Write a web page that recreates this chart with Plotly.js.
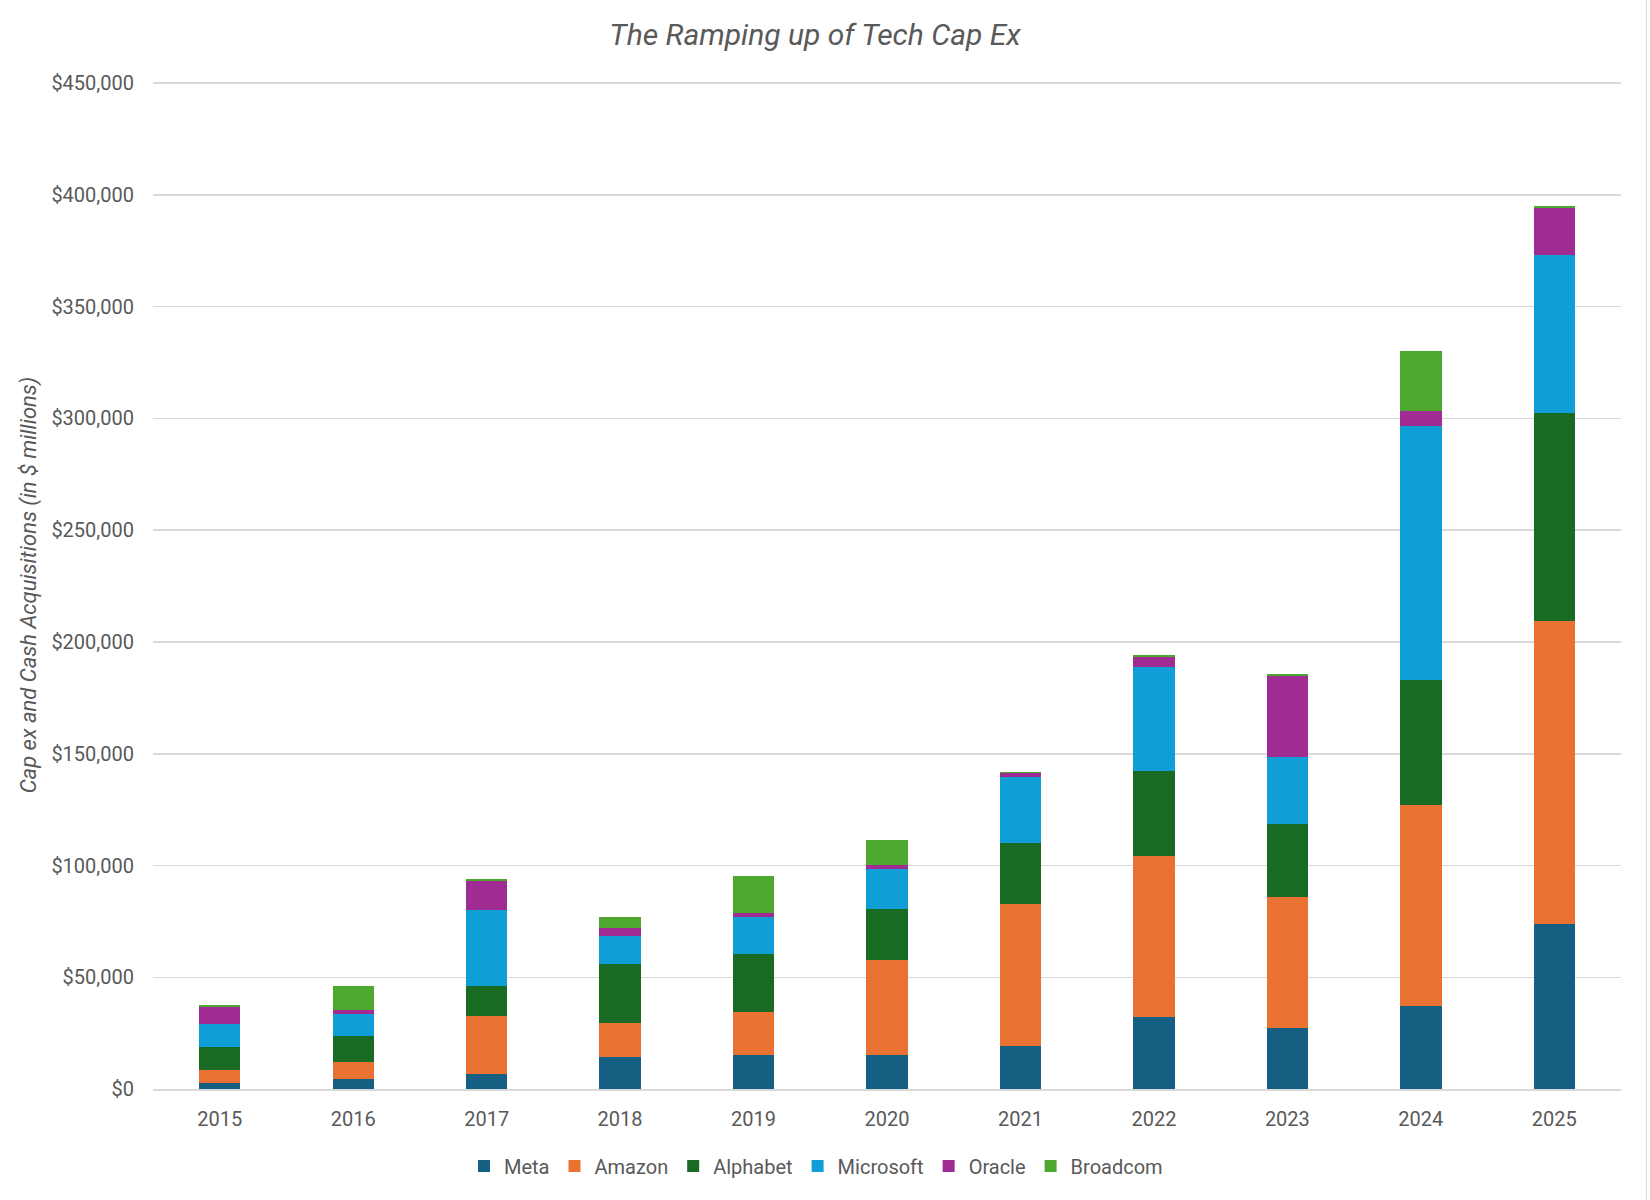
<!DOCTYPE html>
<html>
<head>
<meta charset="utf-8">
<script src="https://cdn.plot.ly/plotly-3.0.1.min.js"></script>
<style>
  body { margin: 0; background: #ffffff; }
  #chart { width: 1646px; height: 1200px; border-right: 1px solid #d9d9d9; }
</style>
</head>
<body>
<div id="chart"></div>
<script>
// Years on the x axis.
const years = ['2015', '2016', '2017', '2018', '2019', '2020', '2021', '2022', '2023', '2024', '2025'];

// Cap ex plus cash acquisitions, in $ millions.
const meta      = [2900, 4700, 6900, 14100, 15400, 15400, 19400, 32400, 27300, 37200, 73700];
const amazon    = [5800, 7600, 25600, 15600, 19200, 42500, 63200, 72000, 58700, 90000, 135800];
const alphabet  = [10300, 11200, 13700, 26400, 26000, 22700, 27500, 38100, 32700, 55600, 93100];
const microsoft = [9900, 9900, 34000, 12400, 16500, 18000, 29600, 46100, 30000, 113800, 70600];
const oracle    = [7600, 1900, 13000, 3600, 1800, 1800, 1800, 4500, 36300, 6700, 21100];
const broadcom  = [900, 10600, 900, 5000, 16500, 11200, 500, 900, 500, 26900, 900];

const seriesNames = ['Meta', 'Amazon', 'Alphabet', 'Microsoft', 'Oracle', 'Broadcom'];
const seriesValues = [meta, amazon, alphabet, microsoft, oracle, broadcom];
const seriesColors = ['#156082', '#E97132', '#196B24', '#0F9ED5', '#A02B93', '#4EA72E'];

const textColor = '#595959';
const fontFamily = 'Roboto, "Liberation Sans", sans-serif';

// One stacked bar trace per company.
const traces = seriesNames.map((name, i) => ({
  x: years,
  y: seriesValues[i],
  type: 'bar',
  name: name,
  marker: { color: seriesColors[i], line: { width: 0 } },
  hovertemplate: name + ' %{x}: $%{y:,}<extra></extra>'
}));

// The top of the range sits a hair above $450,000 so its gridline is drawn.
const layout = {
  width: 1646,
  height: 1200,
  barmode: 'stack',
  bargap: 0.69,
  paper_bgcolor: '#ffffff',
  plot_bgcolor: '#ffffff',
  font: { family: fontFamily, color: textColor, size: 20 },
  margin: { l: 153, r: 25, t: 81, b: 111 },
  title: {
    text: '<i>The Ramping up of Tech Cap Ex</i>',
    xref: 'container',
    x: 815 / 1646,
    xanchor: 'center',
    yref: 'container',
    y: 1 - 34 / 1200,
    yanchor: 'middle',
    font: { family: fontFamily, size: 30, color: textColor }
  },
  xaxis: {
    type: 'category',
    showgrid: false,
    showline: true,
    linecolor: '#d9d9d9',
    linewidth: 1.5,
    ticks: '',
    tickfont: { size: 20, color: textColor },
    ticklabelstandoff: 11
  },
  yaxis: {
    range: [0, 451000],
    tick0: 0,
    dtick: 50000,
    tickprefix: '$',
    tickformat: ',d',
    showgrid: true,
    gridcolor: '#d9d9d9',
    gridwidth: 1.5,
    zeroline: false,
    showline: false,
    ticks: '',
    ticklabelstandoff: 18,
    tickfont: { size: 20, color: textColor },
    title: {
      text: '<i>Cap ex and Cash Acquisitions (in $ millions)</i>',
      font: { size: 22, color: textColor },
      standoff: 8
    }
  },
  showlegend: true,
  legend: {
    orientation: 'h',
    xref: 'container',
    x: 816 / 1646,
    xanchor: 'center',
    yref: 'container',
    y: 1 - 1166 / 1200,
    yanchor: 'middle',
    font: { size: 20, color: textColor },
    traceorder: 'normal',
    itemwidth: 30
  }
};

Plotly.newPlot('chart', traces, layout, { displayModeBar: false, staticPlot: true });
</script>
</body>
</html>
